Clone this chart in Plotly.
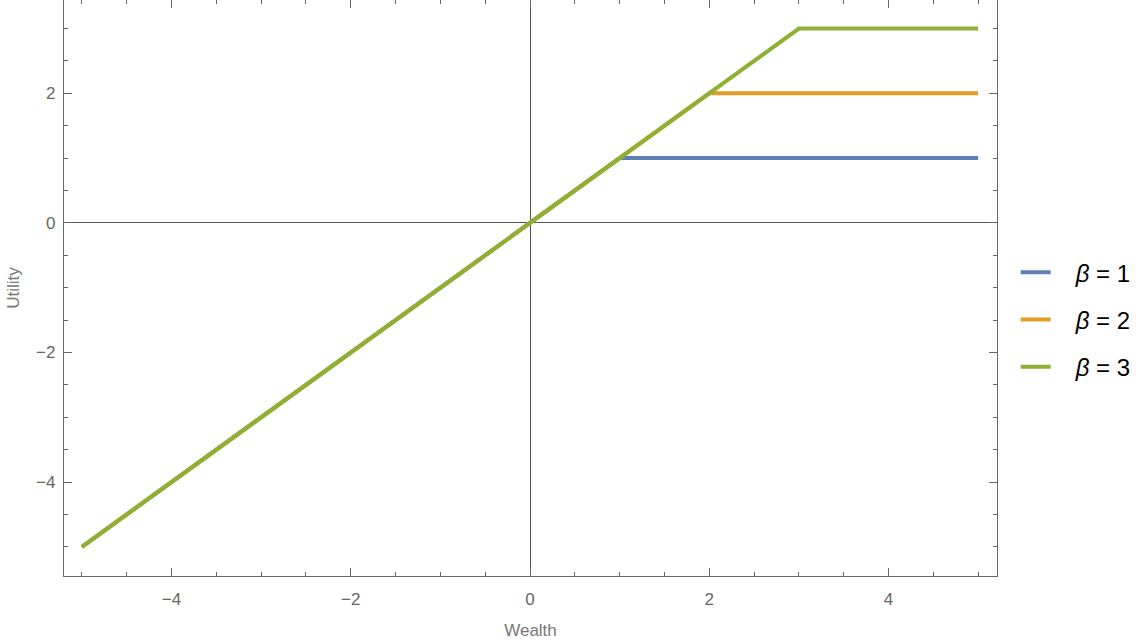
import plotly.graph_objects as go

# wealth breakpoints and utility values for each beta (utility = min(wealth, beta))
betas = [1, 2, 3]
wealth = {1: [-5, 1, 5], 2: [-5, 2, 5], 3: [-5, 3, 5]}
utility = {1: [-5, 1, 1], 2: [-5, 2, 2], 3: [-5, 3, 3]}
colors = {1: "#5E81B5", 2: "#E19C24", 3: "#8FB032"}

fig = go.Figure()
for b in betas:
    fig.add_trace(go.Scatter(
        x=wealth[b], y=utility[b], mode="lines",
        name=f"\u00a0\u00a0\u00a0<i>β</i> = {b}", legendgroup=str(b),
        line=dict(color=colors[b], width=4),
    ))

axis_common = dict(
    showgrid=False, showline=True, linecolor="#666666", linewidth=1.3,
    mirror="allticks", ticks="inside", ticklen=8, tickwidth=1.3, tickcolor="#666666",
    dtick=2, tickfont=dict(family="Liberation Sans", size=17, color="#666666"),
    zeroline=True, zerolinecolor="#555555", zerolinewidth=1,
    minor=dict(dtick=0.5, ticks="inside", ticklen=4, tickwidth=1.3, tickcolor="#666666", showgrid=False),
    title_font=dict(family="Liberation Sans", size=17, color="#777777"),
    automargin=False,
)

fig.update_xaxes(range=[-5.2, 5.21], title_text="Wealth", title_standoff=16,
                 ticklabelstandoff=7, **axis_common)
fig.update_yaxes(range=[-5.45, 3.44], title_text="Utility", title_standoff=12,
                 ticklabelstandoff=4, **axis_common)

fig.update_layout(
    width=1144, height=643,
    margin=dict(l=64, r=147, t=0, b=67),
    plot_bgcolor="white", paper_bgcolor="white",
    legend=dict(x=1.02, y=0.445, xanchor="left", yanchor="middle",
                font=dict(family="Liberation Sans", size=24, color="black"),
                tracegroupgap=13, bgcolor="rgba(0,0,0,0)"),
)

fig.write_html("out.html", config={"displayModeBar": False},
               post_script="document.body.style.margin='0';")
